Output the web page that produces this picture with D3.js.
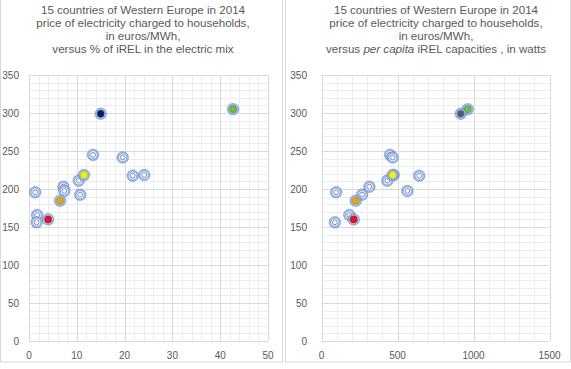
<!DOCTYPE html>
<html><head><meta charset="utf-8">
<script src="https://cdn.jsdelivr.net/npm/d3@7"></script>
<style>body{margin:0;background:#fff}text{font-family:"Liberation Sans",Arial,sans-serif;fill:#595959}</style>
</head><body><svg id="c" width="571" height="369"></svg>
<script>
// shared price values (euros/MWh)
const prices   = [305, 299, 245, 241.5, 217.5, 218.4, 218.4, 211, 203, 197.4, 195.7, 192.5, 184.6, 165.8, 160, 156.2];
// % of iREL in the electric mix
const shareREL = [42.7, 15.0, 13.4, 19.6, 21.7, 24.1, 11.5, 10.4, 7.2, 7.4, 1.3, 10.7, 6.5, 1.7, 4.0, 1.6];
// per capita iREL capacities (W)
const capacity = [962, 916, 451, 468, 643, 475, 468, 433, 315, 565, 96, 267, 225, 183, 212, 88];
// highlight colour per point (null = plain)
const highlight = ["green", "navy", null, null, null, null, "yellow", null, null, null, null, null, "orange", null, "red", null];
const highlightR = ["green", "slate", null, null, null, null, "yellow", null, null, null, null, null, "orange", null, "red", null];
const yTicks = [0, 50, 100, 150, 200, 250, 300, 350];
const xTicksL = [0, 10, 20, 30, 40, 50];
const xTicksR = [0, 500, 1000, 1500];
const titleL = ["15 countries of Western Europe in 2014", "price of electricity charged to households,", "in euros/MWh,", "versus % of iREL in the electric mix"];

const colors = {green:["#70c040","#3f8f2a"], navy:["#002060","#1f3a7a"], slate:["#4d5c75","#6b7a94"], yellow:["#f2f20a","#c9c900"], orange:["#e0a818","#c08a10"], red:["#ee1122","#c00010"]};

const svg = d3.select("#c");

function panel(opt){
  const g = svg.append("g");
  g.append("rect").attr("x",opt.px+0.5).attr("y",-1).attr("width",opt.pw).attr("height",363)
    .attr("fill","#fff").attr("stroke","#d9d9d9");
  const x = d3.scaleLinear().domain(opt.xdom).range(opt.xr);
  const y = d3.scaleLinear().domain([0,350]).range([341,75]);
  // minor grid
  const xmin = d3.range(opt.xdom[0], opt.xdom[1]+1e-9, opt.xminor);
  const ymin = d3.range(0, 351, 10);
  g.selectAll(".mx").data(xmin).join("line").attr("x1",d=>Math.round(x(d))+0.5).attr("x2",d=>Math.round(x(d))+0.5)
    .attr("y1",y(350)).attr("y2",y(0)).attr("stroke","#ececec");
  g.selectAll(".my").data(ymin).join("line").attr("y1",d=>Math.round(y(d))+0.5).attr("y2",d=>Math.round(y(d))+0.5)
    .attr("x1",opt.xr[0]).attr("x2",opt.xr[1]).attr("stroke","#ececec");
  // major grid
  g.selectAll(".Mx").data(opt.xticks).join("line").attr("x1",d=>Math.round(x(d))+0.5).attr("x2",d=>Math.round(x(d))+0.5)
    .attr("y1",y(350)).attr("y2",y(0)).attr("stroke","#d9d9d9");
  g.selectAll(".My").data(yTicks).join("line").attr("y1",d=>Math.round(y(d))+0.5).attr("y2",d=>Math.round(y(d))+0.5)
    .attr("x1",opt.xr[0]).attr("x2",opt.xr[1]).attr("stroke","#d9d9d9");
  // tick labels
  g.selectAll(".yl").data(yTicks).join("text").attr("x",opt.ylabx).attr("y",d=>y(d)+3.5)
    .attr("text-anchor","end").attr("font-size","10px").text(d=>d);
  g.selectAll(".xl").data(opt.xticks).join("text").attr("x",d=>x(d)).attr("y",359)
    .attr("text-anchor","middle").attr("font-size","10px").text(d=>d);
  // title
  const bl = [14,27,40,53];
  opt.title.forEach((line,i)=>{
    const tt = g.append("text").attr("x",opt.tx).attr("y",bl[i]).attr("font-size","11.6px").attr("text-anchor","middle");
    if (typeof line === "string") tt.text(line);
    else line.forEach(p=>tt.append("tspan").attr("font-style",p.i?"italic":null).text(p.t));
  });
  // points
  const pts = opt.xs.map((v,i)=>({x:v,y:prices[i],h:opt.hl[i]}));
  const order = pts.slice().sort((a,b)=>(a.h?1:0)-(b.h?1:0));
  const m = g.selectAll(".pt").data(order).join("g").attr("transform",d=>`translate(${x(d.x)},${y(d.y)})`);
  m.append("circle").attr("r",5.8).attr("fill","#8faadc").attr("fill-opacity",0.85)
    .attr("stroke","#4472c4").attr("stroke-opacity",0.5).attr("stroke-width",0.8);
  m.filter(d=>!d.h).append("circle").attr("r",3.5).attr("fill","#fff");
  m.filter(d=>!d.h).append("circle").attr("r",2.4).attr("fill","none").attr("stroke","#5b7fc7").attr("stroke-width",0.9);
  m.filter(d=>d.h).append("circle").attr("r",3.4).attr("fill",d=>colors[d.h][0]).attr("stroke",d=>colors[d.h][1]).attr("stroke-width",0.6);
}

panel({px:0,pw:282,xdom:[0,50],xr:[29,268],xminor:2,xticks:xTicksL,ylabx:19,tx:143,title:titleL,xs:shareREL,hl:highlight});
panel({px:285,pw:285,xdom:[0,1500],xr:[321.5,549.5],xminor:100,xticks:xTicksR,ylabx:307,tx:436,
  title:[titleL[0],titleL[1],titleL[2],[{t:"versus "},{t:"per capita",i:true},{t:" iREL capacities , in watts"}]],xs:capacity,hl:highlightR});
</script></body></html>
